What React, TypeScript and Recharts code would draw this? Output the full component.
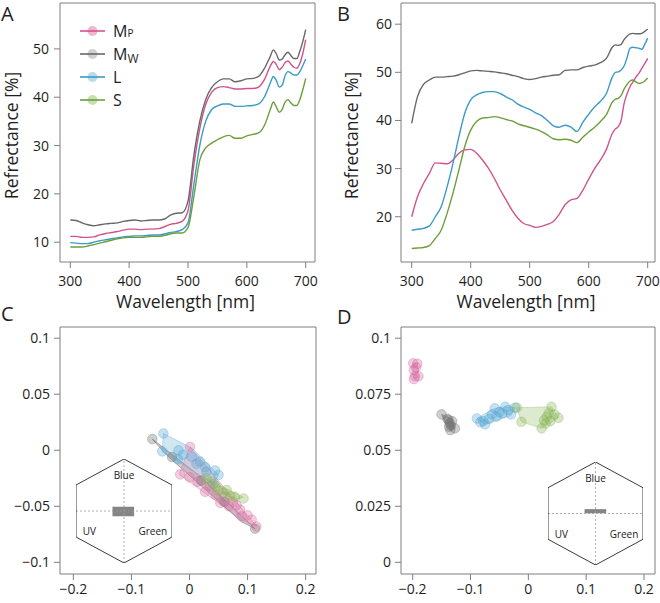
import React from 'react';
import {
  ComposedChart,
  ScatterChart,
  Line,
  Scatter,
  XAxis,
  YAxis,
  ReferenceArea,
  ReferenceLine,
  ReferenceDot,
  Legend,
} from 'recharts';

const FONT = '"Open Sans", "DejaVu Sans", sans-serif';
const TEXT = '#1e1e1e';
const BOX = '#7f7f7f';

// ---------- spectra (panels A, B) ----------
const wavelengths = [
  300, 310, 320, 330, 340, 350, 360, 370, 380, 390, 400, 410, 420, 430, 440, 450, 460, 470, 480, 490,
  500, 510, 520, 530, 540, 550, 560, 570, 580, 590, 600, 610, 620, 630, 640,
  645, 650, 655, 660, 665, 670, 675, 680, 685, 690, 695, 700,
];

const specA_MP = [
  11.2, 11.2, 11.0, 11.0, 11.1, 11.5, 11.8, 12.0, 12.2, 12.5, 12.7, 12.7, 12.6, 12.7, 12.7, 12.8, 13.2, 13.7, 13.9, 14.3,
  16.5, 26.0, 33.5, 38.5, 41.0, 42.0, 42.2, 42.0, 41.7, 41.7, 41.8, 41.8, 42.1, 43.7, 46.5,
  47.4, 46.8, 45.7, 46.2, 47.2, 47.5, 46.8, 46.2, 46.0, 47.0, 49.0, 51.9,
];
const specA_MW = [
  14.6, 14.5, 14.0, 13.6, 13.4, 13.6, 13.8, 13.9, 14.0, 14.3, 14.5, 14.6, 14.4, 14.5, 14.6, 14.6, 14.8, 15.6, 16.0, 16.1,
  18.5, 28.0, 35.0, 39.5, 42.0, 43.2, 43.8, 43.8, 43.2, 43.4, 43.8, 43.9, 44.3, 46.0, 48.5,
  49.8, 49.0, 47.7, 47.9, 48.8, 49.3, 48.6, 48.0, 48.0, 49.5, 51.5, 54.0,
];
const specA_L = [
  9.9, 9.8, 9.7, 9.7, 10.0, 10.3, 10.5, 10.7, 10.9, 11.1, 11.2, 11.3, 11.3, 11.4, 11.5, 11.5, 11.7, 12.0, 12.2, 12.6,
  14.0, 22.0, 30.0, 35.0, 37.4, 38.2, 38.6, 38.6, 38.1, 38.1, 38.2, 38.3, 38.6, 40.1, 43.0,
  44.3, 43.5, 42.1, 42.5, 44.5, 45.3, 45.0, 44.6, 44.6, 45.3, 46.5, 47.9,
];
const specA_S = [
  9.0, 9.0, 9.0, 9.2, 9.5, 9.8, 10.1, 10.4, 10.7, 10.9, 11.0, 11.0, 11.0, 11.1, 11.2, 11.2, 11.4, 11.7, 11.9, 11.9,
  13.0, 19.5, 27.0, 29.5, 30.5, 31.2, 31.8, 32.1, 31.5, 31.5, 32.0, 32.3, 32.6, 34.2, 37.5,
  39.0, 38.0, 36.9, 37.5, 39.0, 39.5, 38.8, 38.3, 38.3, 39.5, 41.5, 43.9,
];

const specB_MP = [
  20.0, 24.2, 26.9, 29.0, 31.2, 31.1, 31.0, 31.8, 33.2, 33.9, 34.0, 33.2, 31.8, 30.1, 28.0, 25.6, 23.5, 21.4, 19.7, 18.6,
  18.2, 17.8, 18.0, 18.4, 19.0, 20.5, 22.5, 23.5, 23.8, 25.5, 27.8, 30.0, 31.8, 34.0, 37.3,
  38.2, 38.7, 40.0, 43.5, 45.5, 47.0, 48.0, 49.0, 49.8, 50.8, 51.8, 52.9,
];
const specB_MW = [
  39.4, 45.0, 47.5, 48.4, 49.0, 49.0, 49.1, 49.2, 49.5, 49.9, 50.3, 50.4, 50.3, 50.2, 50.1, 49.9, 49.7, 49.4, 49.1, 48.7,
  48.5, 48.7, 49.0, 49.2, 49.4, 49.5, 50.4, 50.5, 50.5, 51.0, 51.3, 51.5, 52.0, 52.9, 55.2,
  55.7, 55.6, 55.8, 56.8, 57.5, 58.0, 58.1, 58.0, 58.0, 58.1, 58.5, 59.0,
];
const specB_L = [
  17.2, 17.4, 17.6, 18.1, 20.0, 22.1, 26.2, 31.1, 36.6, 41.5, 44.3, 45.3, 45.8, 46.0, 46.0, 45.6, 44.9, 44.3, 43.4, 42.8,
  42.3, 41.6, 41.0, 40.0, 38.9, 38.6, 39.0, 38.6, 37.7, 39.6, 41.3, 42.8, 44.0, 45.6, 49.0,
  50.0, 50.1, 50.5, 51.3, 53.0, 55.0, 55.2, 55.1, 55.0, 54.8, 55.8, 57.1,
];
const specB_S = [
  13.4, 13.5, 13.6, 14.0, 15.5, 17.2, 20.7, 24.9, 29.7, 34.6, 38.0, 39.8, 40.5, 40.6, 40.8, 40.6, 40.2, 39.9, 39.3, 38.9,
  38.6, 38.2, 37.7, 37.0, 36.2, 36.0, 36.1, 35.9, 35.4, 36.5, 37.6, 38.6, 39.8, 41.2, 43.8,
  44.4, 44.6, 45.2, 46.5, 47.5, 48.2, 48.4, 48.0, 47.7, 47.8, 48.2, 48.8,
];

const seriesKeys = ['MP', 'MW', 'L', 'S'];
const lineColors: Record<string, string> = { MP: '#d0548c', MW: '#686868', L: '#3c9bc6', S: '#6c9e3b' };
const haloColors: Record<string, string> = { MP: '#efb6d0', MW: '#d0d0d0', L: '#b7dced', S: '#c8dfae' };
const pointFill: Record<string, string> = {
  MP: 'rgba(214,105,160,0.32)',
  MW: 'rgba(115,115,115,0.35)',
  L: 'rgba(85,165,210,0.32)',
  S: 'rgba(135,180,85,0.32)',
};
const pointStroke: Record<string, string> = {
  MP: 'rgba(214,105,160,0.45)',
  MW: 'rgba(115,115,115,0.45)',
  L: 'rgba(85,165,210,0.45)',
  S: 'rgba(135,180,85,0.45)',
};
const hullFill: Record<string, string> = {
  MP: 'rgba(214,120,165,0.25)',
  MW: 'rgba(110,110,110,0.35)',
  L: 'rgba(110,180,215,0.32)',
  S: 'rgba(160,195,120,0.35)',
};
const hullStroke: Record<string, string> = {
  MP: 'rgba(214,120,165,0.45)',
  MW: 'rgba(110,110,110,0.55)',
  L: 'rgba(110,180,215,0.45)',
  S: 'rgba(160,195,120,0.45)',
};

const wlTicks = [300, 400, 500, 600, 700];
const aYTicks = [10, 20, 30, 40, 50];
const bYTicks = [20, 30, 40, 50, 60];
const cdXTicks = [-0.2, -0.1, 0, 0.1, 0.2];
const cYTicks = [-0.1, -0.05, 0, 0.05, 0.1];
const dYTicks = [0, 0.025, 0.05, 0.075, 0.1];

// ---------- colour-hexagon coordinates (panels C, D) ----------
const cPoints_MW = [
  { x: -0.064, y: 0.01 }, { x: -0.03, y: -0.006 }, { x: 0.02, y: -0.027 },
  { x: 0.06, y: -0.046 }, { x: 0.113, y: -0.07 },
];
const cHull_MW = [
  { x: -0.064, y: 0.01 }, { x: 0.02, y: -0.024 }, { x: 0.113, y: -0.07 }, { x: 0.09, y: -0.064 }, { x: -0.04, y: -0.004 },
];
const cPoints_L = [
  { x: -0.045, y: 0.015 }, { x: -0.047, y: -0.001 }, { x: -0.019, y: 0.0 }, { x: -0.011, y: -0.004 },
  { x: -0.02, y: -0.008 }, { x: 0.004, y: -0.006 }, { x: 0.018, y: -0.01 }, { x: 0.027, y: -0.015 },
  { x: 0.029, y: -0.019 }, { x: 0.044, y: -0.018 }, { x: 0.05, y: -0.022 }, { x: 0.012, y: -0.012 },
  { x: 0.041, y: -0.03 },
];
const cHull_L = [
  { x: -0.045, y: 0.015 }, { x: 0.004, y: 0.002 }, { x: 0.05, y: -0.022 }, { x: 0.041, y: -0.03 }, { x: -0.047, y: -0.001 },
];
const cPoints_MP = [
  { x: 0.001, y: 0.003 }, { x: -0.016, y: -0.0215 }, { x: 0.0, y: -0.024 }, { x: 0.014, y: -0.028 },
  { x: 0.027, y: -0.037 }, { x: 0.035, y: -0.032 }, { x: 0.053, y: -0.047 }, { x: 0.061, y: -0.0415 },
  { x: 0.068, y: -0.05 }, { x: 0.075, y: -0.046 }, { x: 0.081, y: -0.049 }, { x: 0.087, y: -0.053 },
  { x: 0.09, y: -0.059 }, { x: 0.1, y: -0.058 }, { x: 0.107, y: -0.062 }, { x: 0.115, y: -0.068 },
  { x: 0.045, y: -0.04 },
];
const cHull_MP = [
  { x: 0.001, y: 0.003 }, { x: 0.116, y: -0.068 }, { x: 0.09, y: -0.062 }, { x: -0.018, y: -0.0215 },
];
const cPoints_S = [
  { x: 0.029, y: -0.025 }, { x: 0.038, y: -0.028 }, { x: 0.045, y: -0.032 }, { x: 0.058, y: -0.038 },
  { x: 0.064, y: -0.0355 }, { x: 0.07, y: -0.041 }, { x: 0.078, y: -0.0415 }, { x: 0.093, y: -0.043 },
  { x: 0.05, y: -0.036 },
];
const cHull_S = [
  { x: 0.029, y: -0.025 }, { x: 0.093, y: -0.042 }, { x: 0.078, y: -0.044 }, { x: 0.045, y: -0.035 },
];

const dPoints_MP = [
  { x: -0.199, y: 0.0888 }, { x: -0.192, y: 0.0886 }, { x: -0.198, y: 0.0858 }, { x: -0.196, y: 0.083 },
  { x: -0.19, y: 0.083 }, { x: -0.198, y: 0.0818 }, { x: -0.194, y: 0.087 },
];
const dHull_MP = [
  { x: -0.199, y: 0.0888 }, { x: -0.192, y: 0.0886 }, { x: -0.19, y: 0.083 }, { x: -0.198, y: 0.0818 }, { x: -0.2, y: 0.084 },
];
const dPoints_MW = [
  { x: -0.15, y: 0.066 }, { x: -0.14, y: 0.064 }, { x: -0.138, y: 0.0635 }, { x: -0.136, y: 0.062 },
  { x: -0.137, y: 0.0605 }, { x: -0.134, y: 0.061 }, { x: -0.127, y: 0.0598 }, { x: -0.135, y: 0.059 },
  { x: -0.132, y: 0.063 },
];
const dHull_MW = [
  { x: -0.15, y: 0.066 }, { x: -0.132, y: 0.064 }, { x: -0.127, y: 0.0598 }, { x: -0.135, y: 0.059 }, { x: -0.14, y: 0.061 },
];
const dPoints_L = [
  { x: -0.089, y: 0.0642 }, { x: -0.083, y: 0.0625 }, { x: -0.075, y: 0.0616 }, { x: -0.078, y: 0.063 },
  { x: -0.068, y: 0.064 }, { x: -0.063, y: 0.066 }, { x: -0.058, y: 0.0687 }, { x: -0.05, y: 0.067 },
  { x: -0.045, y: 0.0665 }, { x: -0.04, y: 0.0694 }, { x: -0.035, y: 0.068 }, { x: -0.03, y: 0.066 },
  { x: -0.023, y: 0.069 }, { x: -0.055, y: 0.065 },
];
const dHull_L = [
  { x: -0.089, y: 0.0642 }, { x: -0.058, y: 0.0687 }, { x: -0.04, y: 0.0694 }, { x: -0.023, y: 0.069 },
  { x: -0.03, y: 0.0655 }, { x: -0.075, y: 0.0616 },
];
const dPoints_S = [
  { x: -0.02, y: 0.069 }, { x: -0.012, y: 0.0627 }, { x: 0.023, y: 0.0598 }, { x: 0.027, y: 0.0634 },
  { x: 0.032, y: 0.065 }, { x: 0.035, y: 0.0665 }, { x: 0.04, y: 0.0694 }, { x: 0.045, y: 0.066 },
  { x: 0.052, y: 0.0645 }, { x: 0.03, y: 0.062 }, { x: 0.038, y: 0.063 },
];
const dHull_S = [
  { x: -0.02, y: 0.069 }, { x: 0.04, y: 0.0694 }, { x: 0.052, y: 0.0645 }, { x: 0.023, y: 0.0598 }, { x: -0.012, y: 0.0627 },
];

// inset hexagon (unit coordinates)
const hexagon = [
  { x: 0, y: 1 }, { x: 1, y: 0.5 }, { x: 1, y: -0.5 }, { x: 0, y: -1 }, { x: -1, y: -0.5 }, { x: -1, y: 0.5 },
];
const hexLabels = [
  { x: 0, y: 0.68, name: 'Blue' },
  { x: -0.72, y: -0.4, name: 'UV' },
  { x: 0.6, y: -0.4, name: 'Green' },
];
const cInsetBox = { x1: -0.24, x2: 0.21, y1: -0.1, y2: 0.08 };
const dInsetBox = { x1: -0.23, x2: 0.225, y1: 0.005, y2: 0.085 };

// ---------- helpers ----------
const buildTable = (mp: number[], mw: number[], l: number[], s: number[]) =>
  wavelengths.map((wl, i) => ({ wl, MP: mp[i], MW: mw[i], L: l[i], S: s[i] }));

const tableA = buildTable(specA_MP, specA_MW, specA_L, specA_S);
const tableB = buildTable(specB_MP, specB_MW, specB_L, specB_S);

const fmt = (v: number) => String(v).replace('-', '\u2212');
const tickStyle = { fontSize: 14, fill: TEXT, fontFamily: FONT };

const hullLine = (fill: string, stroke: string) => (p: any) => (
  <polygon
    points={(p.points || []).map((pt: any) => `${pt.x},${pt.y}`).join(' ')}
    fill={fill}
    stroke={stroke}
    strokeWidth={1}
    strokeLinejoin="round"
  />
);
const noShape = () => <g />;
const dotShape = (fill: string, stroke: string) => (p: any) => (
  <circle cx={p.cx} cy={p.cy} r={4.8} fill={fill} stroke={stroke} strokeWidth={0.8} />
);

const yTitle = (cx: number) => (props: any) => {
  const vb = props.viewBox || props;
  const cy = (vb.y ?? 0) + (vb.height ?? 0) / 2 + 3;
  return (
    <text
      x={cx}
      y={cy}
      transform={`rotate(-90 ${cx} ${cy})`}
      textAnchor="middle"
      dominantBaseline="central"
      fontSize={17.5}
      fill={TEXT}
      fontFamily={FONT}
    >
      Refrectance [%]
    </text>
  );
};
const xTitle = (baseline: number) => (props: any) => {
  const vb = props.viewBox || props;
  const cx = (vb.x ?? 0) + (vb.width ?? 0) / 2 - 2;
  return (
    <text x={cx} y={baseline} textAnchor="middle" fontSize={17.5} fill={TEXT} fontFamily={FONT}>
      Wavelength [nm]
    </text>
  );
};

const legendName = (key: string) => {
  if (key === 'MP')
    return (
      <span>
        M<span style={{ fontSize: '0.62em' }}>P</span>
      </span>
    );
  if (key === 'MW')
    return (
      <span>
        M<span style={{ fontSize: '0.75em', position: 'relative', top: '0.25em' }}>W</span>
      </span>
    );
  return <span>{key}</span>;
};

const renderLegend = (props: any) => {
  const items = [...(props.payload || [])].sort(
    (a: any, b: any) => seriesKeys.indexOf(a.value) - seriesKeys.indexOf(b.value),
  );
  return (
    <div style={{ fontFamily: FONT, color: TEXT }}>
      {items.map((e: any) => (
        <div key={e.value} style={{ display: 'flex', alignItems: 'center', height: 22.8 }}>
          <svg width={26} height={12} style={{ display: 'block' }}>
            <circle cx={12.5} cy={6} r={5} fill={haloColors[e.value]} />
            <line x1={0} y1={6} x2={25} y2={6} stroke={lineColors[e.value]} strokeWidth={1.6} />
          </svg>
          <span style={{ marginLeft: 7, fontSize: 16, lineHeight: 1 }}>{legendName(e.value)}</span>
        </div>
      ))}
    </div>
  );
};

type SpecProps = {
  data: any[];
  xDomain: [number, number];
  yDomain: [number, number];
  yTicks: number[];
  yAxisWidth: number;
  rightMargin: number;
  yTitleX: number;
  yTickMargin: number;
  legend?: boolean;
};

const SpectrumChart = ({ data, xDomain, yDomain, yTicks, yAxisWidth, rightMargin, yTitleX, yTickMargin, legend }: SpecProps) => (
  <ComposedChart width={330} height={320} data={data} margin={{ top: 3, right: rightMargin, bottom: 0, left: 0 }}>
    <XAxis
      dataKey="wl"
      type="number"
      domain={xDomain}
      ticks={wlTicks}
      allowDataOverflow
      interval={0}
      height={58}
      axisLine={false}
      tickLine={{ stroke: BOX }}
      tickSize={6}
      tickMargin={8}
      tick={tickStyle}
      label={xTitle(308)}
    />
    <YAxis
      type="number"
      domain={yDomain}
      ticks={yTicks}
      allowDataOverflow
      interval={0}
      width={yAxisWidth}
      axisLine={false}
      tickLine={{ stroke: BOX }}
      tickSize={6}
      tickMargin={yTickMargin}
      tick={tickStyle}
      label={yTitle(yTitleX)}
    />
    <ReferenceArea
      x1={xDomain[0]}
      x2={xDomain[1]}
      y1={yDomain[0]}
      y2={yDomain[1]}
      fill="none"
      stroke={BOX}
      strokeWidth={1}
      ifOverflow="visible"
    />
    {seriesKeys.map((k) => (
      <Line
        key={k}
        dataKey={k}
        name={k}
        type="monotone"
        stroke={lineColors[k]}
        strokeWidth={1.4}
        dot={false}
        activeDot={false}
        isAnimationActive={false}
      />
    ))}
    {legend && (
      <Legend
        layout="vertical"
        align="center"
        verticalAlign="middle"
        content={renderLegend}
        wrapperStyle={{ left: 80, top: 20, width: 'auto', height: 'auto' }}
      />
    )}
  </ComposedChart>
);

type Group = { key: string; points: { x: number; y: number }[]; hull: { x: number; y: number }[] };

type HexProps = {
  groups: Group[];
  xDomain: [number, number];
  yDomain: [number, number];
  yTicks: number[];
  yAxisWidth: number;
  rightMargin: number;
  yTickMargin: number;
};

const HexChart = ({ groups, xDomain, yDomain, yTicks, yAxisWidth, rightMargin, yTickMargin }: HexProps) => (
  <ScatterChart width={330} height={303} margin={{ top: 27, right: rightMargin, bottom: 0, left: 0 }}>
    <XAxis
      dataKey="x"
      type="number"
      domain={xDomain}
      ticks={cdXTicks}
      allowDataOverflow
      interval={0}
      height={29}
      axisLine={false}
      tickLine={{ stroke: BOX }}
      tickSize={6}
      tickMargin={4}
      tick={tickStyle}
      tickFormatter={fmt}
    />
    <YAxis
      dataKey="y"
      type="number"
      domain={yDomain}
      ticks={yTicks}
      allowDataOverflow
      interval={0}
      width={yAxisWidth}
      axisLine={false}
      tickLine={{ stroke: BOX }}
      tickSize={6}
      tickMargin={yTickMargin}
      tick={tickStyle}
      tickFormatter={fmt}
    />
    <ReferenceArea
      x1={xDomain[0]}
      x2={xDomain[1]}
      y1={yDomain[0]}
      y2={yDomain[1]}
      fill="none"
      stroke={BOX}
      strokeWidth={1}
      ifOverflow="visible"
    />
    {groups.map((g) => (
      <Scatter
        key={`hull-${g.key}`}
        data={g.hull}
        line={hullLine(hullFill[g.key], hullStroke[g.key])}
        shape={noShape}
        isAnimationActive={false}
      />
    ))}
    {groups.map((g) => (
      <Scatter
        key={`pts-${g.key}`}
        data={g.points}
        shape={dotShape(pointFill[g.key], pointStroke[g.key])}
        isAnimationActive={false}
      />
    ))}
  </ScatterChart>
);

const HexInset = ({ box, width, height }: { box: { x1: number; x2: number; y1: number; y2: number }; width: number; height: number }) => (
  <ScatterChart width={width} height={height} margin={{ top: 2, right: 2, bottom: 2, left: 2 }}>
    <XAxis dataKey="x" type="number" domain={[-1, 1]} hide allowDataOverflow />
    <YAxis dataKey="y" type="number" domain={[-1, 1]} hide allowDataOverflow />
    <ReferenceLine y={0} stroke="#9a9a9a" strokeWidth={0.8} strokeDasharray="2 2" />
    <ReferenceLine x={0} stroke="#9a9a9a" strokeWidth={0.8} strokeDasharray="2 2" />
    <ReferenceArea x1={box.x1} x2={box.x2} y1={box.y1} y2={box.y2} fill="#858585" fillOpacity={1} stroke="none" />
    <Scatter data={hexagon} line={hullLine('none', '#3a3a3a')} shape={noShape} isAnimationActive={false} />
    {hexLabels.map((l) => (
      <ReferenceDot
        key={l.name}
        x={l.x}
        y={l.y}
        r={0}
        fill="none"
        stroke="none"
        label={{ value: l.name, position: 'center', fontSize: 10, fill: '#222', fontFamily: FONT }}
      />
    ))}
  </ScatterChart>
);

const cGroups: Group[] = [
  { key: 'MW', points: cPoints_MW, hull: cHull_MW },
  { key: 'L', points: cPoints_L, hull: cHull_L },
  { key: 'MP', points: cPoints_MP, hull: cHull_MP },
  { key: 'S', points: cPoints_S, hull: cHull_S },
];
const dGroups: Group[] = [
  { key: 'MP', points: dPoints_MP, hull: dHull_MP },
  { key: 'MW', points: dPoints_MW, hull: dHull_MW },
  { key: 'L', points: dPoints_L, hull: dHull_L },
  { key: 'S', points: dPoints_S, hull: dHull_S },
];

const letterStyle = { fontSize: 20, fill: TEXT, fontFamily: FONT };

export default function App() {
  return (
    <div style={{ position: 'absolute', left: 0, top: 0, width: 660, height: 603, background: '#fff', overflow: 'hidden' }}>
      <div style={{ position: 'absolute', left: 0, top: 0 }}>
        <SpectrumChart
          data={tableA}
          xDomain={[282.5, 715.8]}
          yDomain={[5.9, 59.5]}
          yTicks={aYTicks}
          yAxisWidth={60}
          rightMargin={15}
          yTitleX={11}
          yTickMargin={5}
          legend
        />
      </div>
      <div style={{ position: 'absolute', left: 330, top: 0 }}>
        <SpectrumChart
          data={tableB}
          xDomain={[281.9, 712.4]}
          yDomain={[10.6, 64.4]}
          yTicks={bYTicks}
          yAxisWidth={71}
          rightMargin={5}
          yTitleX={21}
          yTickMargin={3}
        />
      </div>
      <div style={{ position: 'absolute', left: 0, top: 300 }}>
        <HexChart
          groups={cGroups}
          xDomain={[-0.223, 0.2178]}
          yDomain={[-0.1104, 0.11]}
          yTicks={cYTicks}
          yAxisWidth={60}
          rightMargin={14}
          yTickMargin={4}
        />
      </div>
      <div style={{ position: 'absolute', left: 330, top: 300 }}>
        <HexChart
          groups={dGroups}
          xDomain={[-0.2202, 0.219]}
          yDomain={[-0.0052, 0.105]}
          yTicks={dYTicks}
          yAxisWidth={71}
          rightMargin={5}
          yTickMargin={4}
        />
      </div>
      <div style={{ position: 'absolute', left: 74, top: 457 }}>
        <HexInset box={cInsetBox} width={100} height={108} />
      </div>
      <div style={{ position: 'absolute', left: 546, top: 460 }}>
        <HexInset box={dInsetBox} width={99} height={107} />
      </div>
      <svg width={660} height={603} style={{ position: 'absolute', left: 0, top: 0, pointerEvents: 'none' }}>
        <text x={1} y={21} {...letterStyle}>A</text>
        <text x={337} y={21} {...letterStyle}>B</text>
        <text x={1} y={321} {...letterStyle}>C</text>
        <text x={337} y={324} {...letterStyle}>D</text>
      </svg>
    </div>
  );
}
